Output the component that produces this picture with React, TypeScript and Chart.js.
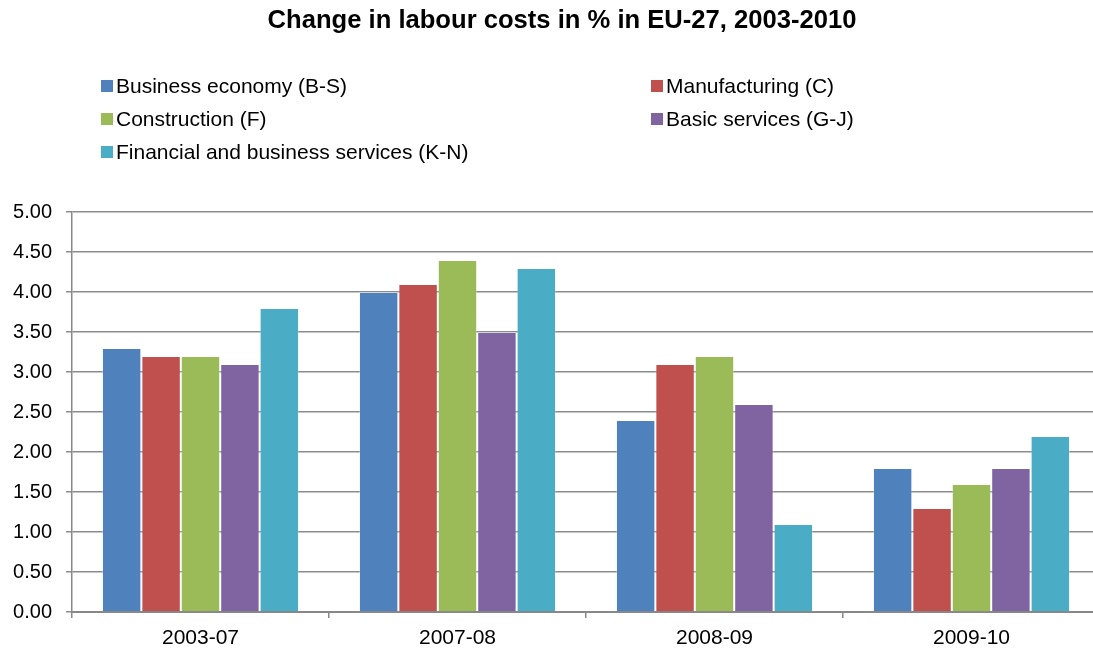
import React, { useEffect, useRef } from "react";
import { Chart, registerables } from "chart.js";

Chart.register(...registerables);

const title = "Change in labour costs in % in EU-27, 2003-2010";
const categories = ["2003-07", "2007-08", "2008-09", "2009-10"];
const seriesNames = [
  "Business economy (B-S)",
  "Manufacturing (C)",
  "Construction (F)",
  "Basic services (G-J)",
  "Financial and business services (K-N)",
];
const businessEconomy = [3.3, 4.0, 2.4, 1.8];
const manufacturing = [3.2, 4.1, 3.1, 1.3];
const construction = [3.2, 4.4, 3.2, 1.6];
const basicServices = [3.1, 3.5, 2.6, 1.8];
const financialServices = [3.8, 4.3, 1.1, 2.2];
const seriesColors = ["#4F81BD", "#C0504D", "#9BBB59", "#8064A2", "#4BACC6"];

const FONT = "'Liberation Sans', Arial, sans-serif";

const headerPlugin = {
  id: "header",
  afterDraw(chart: any) {
    const ctx = chart.ctx;
    ctx.save();
    ctx.fillStyle = "#000";
    ctx.font = `bold 25.6px ${FONT}`;
    ctx.textAlign = "center";
    ctx.textBaseline = "middle";
    ctx.fillText(title, 562, 21);
    ctx.font = `21px ${FONT}`;
    ctx.textAlign = "left";
    const cols = [101, 651];
    const rows = [86, 119, 152];
    chart.data.datasets.forEach((ds: any, i: number) => {
      const x = cols[i % 2];
      const y = rows[Math.floor(i / 2)];
      ctx.fillStyle = ds.backgroundColor;
      ctx.fillRect(x, y - 6, 12, 12);
      ctx.fillStyle = "#000";
      ctx.fillText(ds.label, x + 15, y + 1);
    });
    ctx.restore();
  },
};

export default function App() {
  const ref = useRef<HTMLCanvasElement>(null);
  useEffect(() => {
    const values = [businessEconomy, manufacturing, construction, basicServices, financialServices];
    const chart = new Chart(ref.current!, {
      type: "bar",
      data: {
        labels: categories,
        datasets: seriesNames.map((name, i) => ({
          label: name,
          data: values[i],
          backgroundColor: seriesColors[i],
          borderColor: "rgba(255,255,255,0.3)",
          borderWidth: 1,
          categoryPercentage: 0.767,
          barPercentage: 1.0,
        })),
      },
      options: {
        responsive: false,
        animation: false,
        layout: { padding: { top: 212, left: 0, right: 0, bottom: 0 } },
        plugins: {
          legend: { display: false },
          title: { display: false },
          tooltip: { enabled: false },
        },
        scales: {
          x: {
            grid: {
              display: true,
              drawOnChartArea: false,
              drawTicks: true,
              tickLength: 6,
              color: "#888",
              lineWidth: 1.5,
              offset: true,
            },
            border: { color: "#888", width: 2 },
            ticks: { font: { family: FONT, size: 21 }, color: "#000", padding: 8 },
            afterFit: (s: any) => {
              s.height = 38;
            },
          },
          y: {
            min: 0,
            max: 5,
            ticks: {
              stepSize: 0.5,
              font: { family: FONT, size: 20 },
              color: "#000",
              padding: 14,
              callback: (v: any) => Number(v).toFixed(2),
            },
            grid: { color: "#8c8c8c", lineWidth: 1.5, tickLength: 6 },
            border: { color: "#888", width: 1.5 },
            afterFit: (s: any) => {
              s.width = 72;
            },
          },
        },
      },
      plugins: [headerPlugin],
    });
    return () => chart.destroy();
  }, []);
  return (
    <canvas
      ref={ref}
      width={1100}
      height={650}
      style={{ position: "fixed", left: 0, top: 0, display: "block" }}
    />
  );
}
